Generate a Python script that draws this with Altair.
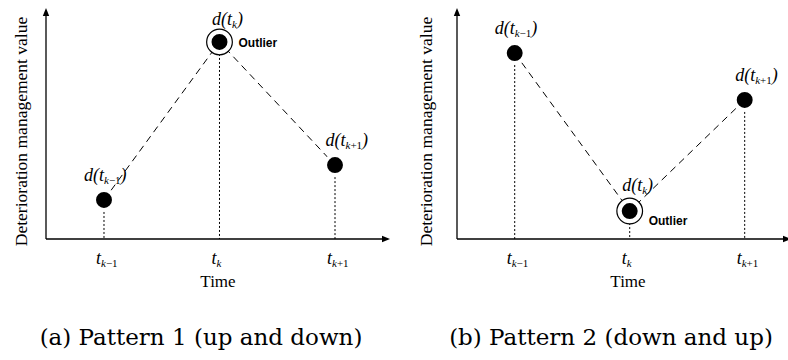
import altair as alt
import pandas as pd

# ---------------- data ----------------
time_index = [0, 1, 2]                      # t_{k-1}, t_k, t_{k+1}
subscripts = ["k−1", "k", "k+1"]
pattern1_values = [1.69, 8.53, 3.20]       # up and down
pattern2_values = [8.05, 1.21, 6.02]       # down and up
outlier_position = 1
captions = ["(a) Pattern 1 (up and down)", "(b) Pattern 2 (down and up)"]
y_title = "Deterioration management value"
x_title = "Time"
outlier_label = "Outlier"

# ---------------- styling helpers ----------------
SERIF = "Liberation Serif"
SANS = "Liberation Sans"
MAIN = 18
SUB = 11
ITALIC_W = {"d": .500, "(": .333, "t": .278, ")": .333, "k": .444}
ROMAN_W = {"−": .564, "+": .564, "1": .500}


def width(s, table, size):
    return sum(table[c] for c in s) * size


UP_ARROW = "M0,0L0.4,1L-0.4,1Z"
RIGHT_ARROW = "M0,0L-1,-0.4L-1,0.4Z"
Y_DOMAIN = [-5.238, 10.346]
BASE_Y = 239      # pixel row of the time axis (value 0)
TOP_Y = 8         # pixel row of the vertical arrow tip


def composite(base, main_text, sub, dx0, dy_main, closing):
    """main text + italic k + roman rest of subscript (+ closing paren)"""
    layers = []
    common = dict(align="left", baseline="alphabetic", font=SERIF, color="black")
    layers.append(base.mark_text(text=main_text, fontSize=MAIN, fontStyle="italic",
                                 dx=dx0, dy=dy_main, **common))
    x1 = dx0 + width(main_text, ITALIC_W, MAIN)
    layers.append(base.mark_text(text=sub[0], fontSize=SUB, fontStyle="italic",
                                 dx=x1, dy=dy_main + 3, **common))
    x2 = x1 + width(sub[0], ITALIC_W, SUB)
    rest = sub[1:]
    if rest:
        layers.append(base.mark_text(text=rest, fontSize=SUB, fontStyle="normal",
                                     dx=x2, dy=dy_main + 3, **common))
        x2 += width(rest, ROMAN_W, SUB)
    if closing:
        layers.append(base.mark_text(text=")", fontSize=MAIN, fontStyle="italic",
                                     dx=x2, dy=dy_main, **common))
    return layers


def panel(values, x_domain, axis_x, tip_x, opts):
    df = pd.DataFrame({"i": time_index, "v": values, "sub": subscripts})
    base = alt.Chart(df)
    X = alt.X("i:Q", scale=alt.Scale(domain=x_domain, nice=False, zero=False), axis=None)
    Y = alt.Y("v:Q", scale=alt.Scale(domain=Y_DOMAIN, nice=False, zero=False), axis=None)
    one = base.transform_filter(alt.datum.i == 0)

    layers = []
    # axes
    layers.append(one.mark_rule(color="black", strokeWidth=1.3).encode(
        x=alt.value(axis_x), x2=alt.value(tip_x - 5), y=alt.value(BASE_Y)))
    layers.append(one.mark_rule(color="black", strokeWidth=1.3).encode(
        x=alt.value(axis_x), y=alt.value(BASE_Y), y2=alt.value(TOP_Y + 5)))
    layers.append(one.mark_point(shape=UP_ARROW, filled=True, color="black", size=256,
                                 opacity=1, strokeWidth=0).encode(
        x=alt.value(axis_x), y=alt.value(TOP_Y)))
    layers.append(one.mark_point(shape=RIGHT_ARROW, filled=True, color="black", size=256,
                                 opacity=1, strokeWidth=0, clip=True).encode(
        x=alt.value(tip_x), y=alt.value(BASE_Y)))
    # dotted drop lines
    layers.append(base.mark_rule(color="black", strokeWidth=1, strokeDash=[2, 2]).encode(
        x="i:Q", y="v:Q", y2=alt.value(BASE_Y)))
    # dashed connecting line
    layers.append(base.mark_line(color="black", strokeWidth=1, strokeDash=[7, 5]).encode(
        x="i:Q", y="v:Q", order="i:Q"))
    # white halo around the dots (lines stop short of them)
    layers.append(base.mark_circle(color="white", size=531, opacity=1).encode(
        x="i:Q", y="v:Q"))
    # outlier ring
    outl = base.transform_filter(alt.datum.i == outlier_position)
    layers.append(outl.mark_circle(fill="white", stroke="black", strokeWidth=1.2,
                                   size=660, opacity=1).encode(x="i:Q", y="v:Q"))
    # dots
    layers.append(base.mark_circle(color="black", size=254, opacity=1).encode(
        x="i:Q", y="v:Q"))
    # outlier text
    layers.append(outl.mark_text(text=outlier_label, align="left", baseline="middle",
                                 font=SANS, fontWeight="bold", fontSize=12, color="black",
                                 dx=19, dy=opts["outlier_dy"]).encode(x="i:Q", y="v:Q"))
    # d(t) labels and tick labels
    label_dx = [-20, -7.5, -9.5]
    for j in time_index:
        row = base.transform_filter(alt.datum.i == j).encode(x="i:Q", y="v:Q")
        dy = opts["outlier_label_dy"] if j == outlier_position else -19
        layers += composite(row, "d(t", subscripts[j], label_dx[j], dy, True)
        tick = base.transform_filter(alt.datum.i == j).encode(x="i:Q", y=alt.value(BASE_Y))
        layers += composite(tick, "t", subscripts[j], -8, 25, False)

    # annotations
    layers.append(one.mark_text(text=y_title, angle=270, align="center", baseline="middle",
                                font=SERIF, fontSize=17.5, color="black").encode(
        x=alt.value(opts["ytitle_x"]), y=alt.value(131.5)))
    layers.append(one.mark_text(text=x_title, align="center", baseline="alphabetic",
                                font=SERIF, fontSize=17, color="black").encode(
        x=alt.value(opts["time_x"]), y=alt.value(287)))
    layers.append(one.mark_text(text=opts["caption"], align="center", baseline="alphabetic",
                                font="DejaVu Serif", fontSize=23, color="black").encode(
        x=alt.value(opts["caption_x"]), y=alt.value(345)))

    first = base.mark_point(opacity=0).encode(x=X, y=Y)
    return alt.layer(first, *layers).properties(width=394, height=360)


left = panel(pattern1_values, [-0.9004, 2.5108], 46, 390,
             dict(outlier_dy=1, outlier_label_dy=-17, ytitle_x=22, time_x=218,
                  caption_x=201, caption=captions[0]))
right = panel(pattern2_values, [-1.0496, 2.3765], 63, 397,
              dict(outlier_dy=10, outlier_label_dy=-20, ytitle_x=33, time_x=234,
                   caption_x=217, caption=captions[1]))

chart = alt.hconcat(left, right, spacing=0).properties(padding=0).configure_view(stroke=None)
chart.save("out.html", embed_options={"renderer": "svg", "actions": False})
